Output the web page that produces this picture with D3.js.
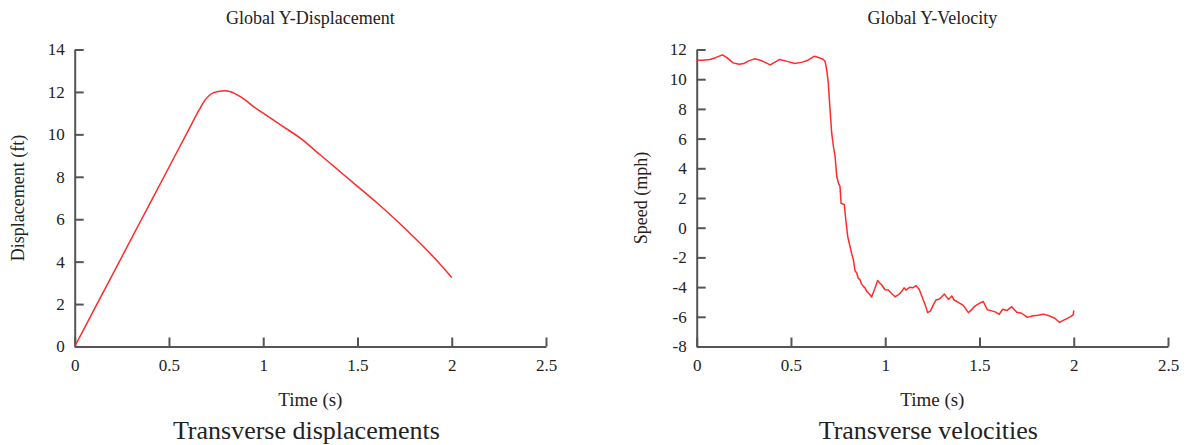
<!DOCTYPE html>
<html>
<head>
<meta charset="utf-8">
<script src="https://cdn.jsdelivr.net/npm/d3@7"></script>
<style>
  html, body { margin: 0; padding: 0; background: #fff; }
  svg text { font-family: "Liberation Serif", "Times New Roman", serif; fill: #222; }
</style>
</head>
<body>
<svg id="chart" width="1191" height="445"></svg>
<script>
// ---- data ----
const timeTicks = [0, 0.5, 1, 1.5, 2, 2.5];
const dispTicks = [0, 2, 4, 6, 8, 10, 12, 14];
const velTicks = [-8, -6, -4, -2, 0, 2, 4, 6, 8, 10, 12];

const dispTime = [0, 0.1, 0.2, 0.3, 0.4, 0.5, 0.6, 0.66, 0.69, 0.72, 0.76, 0.8, 0.85, 0.9, 0.95, 1.0, 1.1, 1.2, 1.3, 1.4, 1.5, 1.6, 1.7, 1.8, 1.9, 2.0];
const dispValue = [0, 1.69, 3.38, 5.07, 6.76, 8.45, 10.14, 11.15, 11.6, 11.88, 12.02, 12.05, 11.92, 11.65, 11.3, 11.0, 10.4, 9.8, 9.05, 8.3, 7.55, 6.8, 6.0, 5.15, 4.25, 3.25];

const velTime = [0.000, 0.030, 0.070, 0.100, 0.136, 0.160, 0.193, 0.225, 0.250, 0.270, 0.306, 0.333, 0.360, 0.390, 0.415, 0.440, 0.480, 0.520, 0.560, 0.590, 0.625, 0.650, 0.672, 0.681, 0.690, 0.698, 0.707, 0.716, 0.725, 0.734, 0.743, 0.752, 0.760, 0.766, 0.775, 0.783, 0.792, 0.801, 0.813, 0.822, 0.831, 0.840, 0.849, 0.857, 0.866, 0.875, 0.884, 0.893, 0.902, 0.915, 0.928, 0.945, 0.960, 0.972, 0.981, 0.999, 1.016, 1.035, 1.052, 1.065, 1.079, 1.090, 1.100, 1.110, 1.130, 1.145, 1.163, 1.180, 1.202, 1.215, 1.225, 1.240, 1.255, 1.269, 1.287, 1.300, 1.314, 1.335, 1.353, 1.366, 1.390, 1.414, 1.441, 1.460, 1.476, 1.499, 1.520, 1.542, 1.565, 1.583, 1.605, 1.623, 1.645, 1.671, 1.698, 1.724, 1.754, 1.786, 1.810, 1.839, 1.874, 1.900, 1.924, 1.955, 1.984, 1.998, 2.000];
const velValue = [11.28, 11.27, 11.33, 11.45, 11.64, 11.45, 11.10, 11.00, 11.05, 11.20, 11.37, 11.30, 11.15, 10.96, 11.15, 11.33, 11.20, 11.06, 11.15, 11.28, 11.55, 11.45, 11.33, 11.20, 10.60, 9.75, 8.00, 6.38, 5.50, 4.80, 3.45, 3.00, 2.78, 1.65, 1.60, 1.55, 0.40, -0.58, -1.25, -1.75, -2.15, -2.90, -3.05, -3.40, -3.50, -3.80, -3.95, -4.05, -4.29, -4.45, -4.67, -4.10, -3.55, -3.75, -3.84, -4.18, -4.20, -4.45, -4.65, -4.55, -4.42, -4.25, -4.05, -4.20, -4.01, -4.05, -3.90, -4.15, -4.87, -5.30, -5.72, -5.60, -5.20, -4.87, -4.80, -4.65, -4.47, -4.83, -4.60, -4.87, -5.05, -5.23, -5.72, -5.50, -5.28, -5.10, -4.97, -5.53, -5.60, -5.67, -5.83, -5.49, -5.58, -5.32, -5.70, -5.76, -6.04, -5.93, -5.90, -5.82, -5.95, -6.10, -6.37, -6.17, -5.99, -5.85, -5.57];

const panels = [
  { title: "Global Y-Displacement", ylabel: "Displacement (ft)", caption: "Transverse displacements",
    t: dispTime, v: dispValue, yDomain: [0, 14], yTicks: dispTicks, left: 74.7, smooth: true, ylabX: 18 },
  { title: "Global Y-Velocity", ylabel: "Speed (mph)", caption: "Transverse velocities",
    t: velTime, v: velValue, yDomain: [-8, 12], yTicks: velTicks, left: 696.7, smooth: false, ylabX: 641 }
];

const svg = d3.select("#chart");
const plotTop = 49.5, plotBottom = 346.5, plotW = 471.3;
const axisColor = "#555";
const serif = '"Liberation Serif", "Times New Roman", serif';

panels.forEach(p => {
  const x = d3.scaleLinear().domain([0, 2.5]).range([p.left, p.left + plotW]);
  const y = d3.scaleLinear().domain(p.yDomain).range([plotBottom, plotTop]);
  const g = svg.append("g");
  const cx = p.left + plotW / 2;

  // title
  g.append("text").attr("x", cx).attr("y", 24).attr("text-anchor", "middle")
    .style("font-size", "18px").text(p.title);

  // x axis
  const xa = g.append("g").attr("transform", `translate(0,${plotBottom})`)
    .call(d3.axisBottom(x).tickValues(timeTicks).tickFormat(d => String(d))
      .tickSizeInner(-9).tickSizeOuter(0).tickPadding(12));
  // y axis
  const ya = g.append("g").attr("transform", `translate(${p.left},0)`)
    .call(d3.axisLeft(y).tickValues(p.yTicks).tickFormat(d => String(d))
      .tickSizeInner(-9).tickSizeOuter(0).tickPadding(10));
  [xa, ya].forEach(a => {
    a.attr("font-family", serif).attr("font-size", 17);
    a.select(".domain").attr("stroke", axisColor).attr("stroke-width", 2);
    a.selectAll(".tick line").attr("stroke", axisColor).attr("stroke-width", 2);
    a.selectAll(".tick text").style("font-size", "17px").style("font-family", serif).attr("fill", "#222");
  });

  // axis labels
  g.append("text").attr("x", cx).attr("y", 406).attr("text-anchor", "middle")
    .style("font-size", "19px").text("Time (s)");
  g.append("text").attr("transform", `translate(${p.ylabX},198) rotate(-90)`)
    .attr("text-anchor", "middle").attr("dy", "0.35em")
    .style("font-size", "18px").text(p.ylabel);

  // caption
  g.append("text").attr("x", cx - 4).attr("y", 438.5).attr("text-anchor", "middle")
    .style("font-size", "26px").text(p.caption);

  // line
  const pts = p.t.map((t, i) => [t, p.v[i]]);
  const line = d3.line().x(d => x(d[0])).y(d => y(d[1]))
    .curve(p.smooth ? d3.curveMonotoneX : d3.curveLinear);
  g.append("path").datum(pts).attr("d", line)
    .attr("fill", "none").attr("stroke", "#ff2a2a").attr("stroke-width", 1.5)
    .attr("stroke-linejoin", "round");
});
</script>
</body>
</html>
